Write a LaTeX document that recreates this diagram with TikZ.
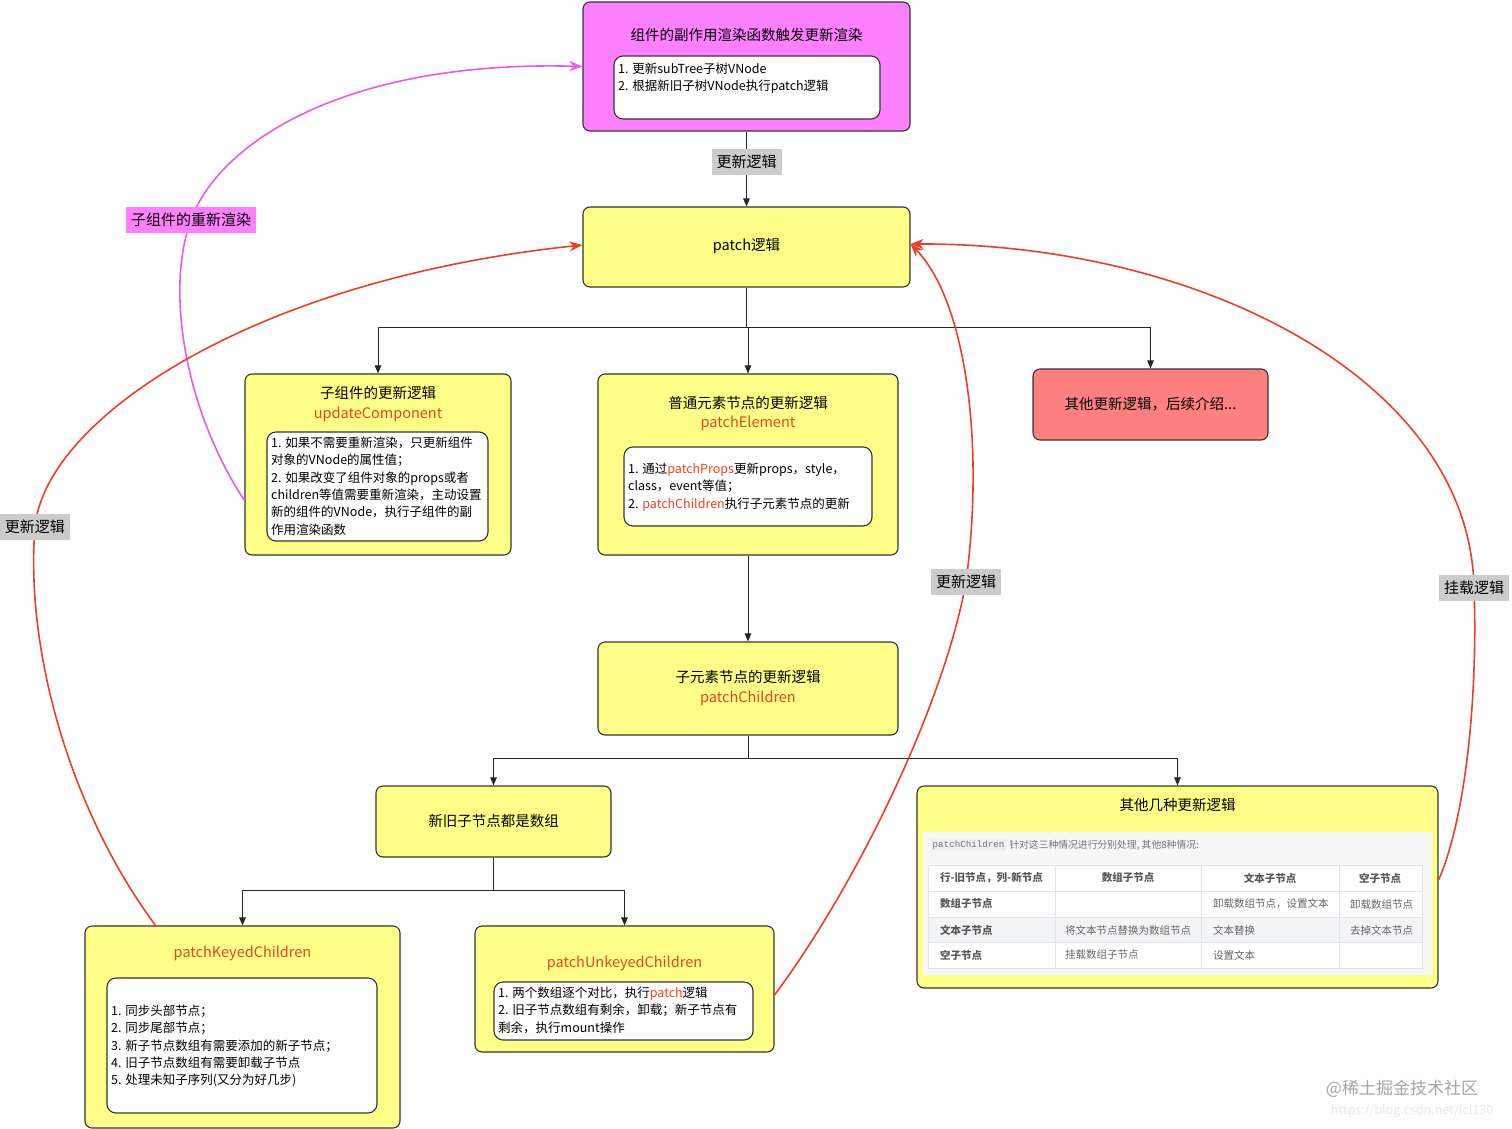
\documentclass[tikz,border=0pt]{standalone}
\usepackage{fontspec}
\setmainfont{Noto Sans CJK SC}
\setmonofont{Liberation Mono}
\usetikzlibrary{arrows.meta,calc}
\definecolor{pinkfill}{HTML}{FF80FF}
\definecolor{magline}{HTML}{E65CE6}
\definecolor{yfill}{HTML}{FFFF88}
\definecolor{redbox}{HTML}{FF8080}
\definecolor{redline}{HTML}{E8402A}
\definecolor{redtext}{HTML}{E8441F}
\definecolor{lblgray}{HTML}{CCCCCC}
\definecolor{tabline}{HTML}{E2E4E8}
\definecolor{tabtext}{HTML}{666666}
\definecolor{tabshade}{HTML}{F3F4F6}
\begin{document}
\begin{tikzpicture}[x=1pt,y=-1pt,
  bx/.style={draw=black!80, line width=1.1pt, rounded corners=7pt, inner sep=0pt},
  ybox/.style={bx, fill=yfill},
  wbox/.style={draw=black!80, line width=1.1pt, rounded corners=9pt, fill=white, inner sep=0pt},
  ttl/.style={font=\fontsize{14.5}{17}\selectfont, inner sep=0pt},
  rtl/.style={ttl, text=redtext},
  lst/.style={font=\fontsize{12.5}{17.4}\selectfont, align=left, inner sep=0pt, anchor=north west},
  lbl/.style={fill=lblgray, font=\fontsize{15}{18}\selectfont, inner xsep=5pt, inner ysep=6pt},
  arr/.style={draw=black!85, line width=1pt, -{Triangle[length=8pt,width=6.5pt]}},
  ln/.style={draw=black!85, line width=1pt},
  redarr/.style={draw=redline, line width=1.6pt, -{Stealth[length=13pt,width=10pt]}},
  magarr/.style={draw=magline, line width=1.6pt, -{Stealth[length=13pt,width=10pt]}},
  tcell/.style={font=\fontsize{10.5}{12}\selectfont, text=tabtext, inner sep=0pt},
  thead/.style={tcell, font=\fontsize{10.5}{12}\selectfont\bfseries, text=black!65},
]
\fill[white] (0,0) rectangle (1512,1129);
\useasboundingbox (0,0) rectangle (1512,1129);

% ---------- top box ----------
\node[bx, fill=pinkfill, minimum width=327pt, minimum height=129pt] (top) at (746.5,66.5) {};
\node[ttl] (toptitle) at (746.5,35) {组件的副作用渲染函数触发更新渲染};
\node[wbox, minimum width=266pt, minimum height=63pt] (topin) at (747,87.5) {};
\node[lst] (toptext) at (618,62.5) {1. 更新subTree子树VNode\\2. 根据新旧子树VNode执行patch逻辑};

% ---------- patch ----------
\node[ybox, minimum width=327pt, minimum height=80pt] (patch) at (746.5,247) {};
\node[ttl] (patchtitle) at (746.5,246) {patch逻辑};

% ---------- updateComponent ----------
\node[ybox, minimum width=266pt, minimum height=181pt] (uc) at (378,464.5) {};
\node[ttl] (uct) at (378,393) {子组件的更新逻辑};
\node[rtl] (ucr) at (378,414) {updateComponent};
\node[wbox, minimum width=221pt, minimum height=109pt] (ucin) at (377.5,486.5) {};
\node[lst] (uctext) at (271,436.5) {1. 如果不需要重新渲染，只更新组件\\对象的VNode的属性值；\\2. 如果改变了组件对象的props或者\\children等值需要重新渲染，主动设置\\新的组件的VNode，执行子组件的副\\作用渲染函数};

% ---------- patchElement ----------
\node[ybox, minimum width=300pt, minimum height=181pt] (pe) at (748,464.5) {};
\node[ttl] (pet) at (748,403) {普通元素节点的更新逻辑};
\node[rtl] (per) at (748,423) {patchElement};
\node[wbox, minimum width=248pt, minimum height=79pt] (pein) at (748,486.5) {};
\node[lst] (petext) at (628,462.5) {1. 通过{\color{redtext}patchProps}更新props，style，\\class，event等值；\\2. {\color{redtext}patchChildren}执行子元素节点的更新};

% ---------- other (red) ----------
\node[bx, fill=redbox, minimum width=235pt, minimum height=71pt] (rb) at (1150.5,404.5) {};
\node[ttl] (rbt) at (1150.5,404) {其他更新逻辑，后续介绍...};

% ---------- patchChildren ----------
\node[ybox, minimum width=300pt, minimum height=93pt] (pc) at (748,688.5) {};
\node[ttl] (pct) at (748,677) {子元素节点的更新逻辑};
\node[rtl] (pcr) at (748,698) {patchChildren};

% ---------- arrays ----------
\node[ybox, minimum width=235pt, minimum height=71pt] (ar) at (493.5,821.5) {};
\node[ttl] (art) at (493.5,821) {新旧子节点都是数组};

% ---------- other kinds ----------
\node[ybox, minimum width=521pt, minimum height=202pt] (oth) at (1177.5,887) {};
\node[ttl] (otht) at (1177.5,805) {其他几种更新逻辑};
\fill[white!97!black] (923,832) rectangle (1432,975);
\node[inner sep=1.5pt, fill=black!6, font=\fontsize{9.2}{11}\selectfont\ttfamily, text=black!55, anchor=west] (capm) at (931,845) {patchChildren};
\node[anchor=west, inner sep=0pt, font=\fontsize{9.8}{11}\selectfont, text=black!55] (capt) at ([xshift=3pt]capm.east) {针对这三种情况进行分别处理, 其他8种情况:};
\fill[white] (928,865) rectangle (1422,968);
\fill[tabshade] (928,917) rectangle (1422,942);
\draw[tabline, line width=0.8pt] (928,865) rectangle (1422,968);
\foreach \yy in {891,917,942} \draw[tabline, line width=0.8pt] (928,\yy) -- (1422,\yy);
\foreach \xx in {1055,1201,1339} \draw[tabline, line width=0.8pt] (\xx,865) -- (\xx,968);
\node[thead, anchor=west] (h1) at (940,878) {行-旧节点，列-新节点};
\node[thead] (h2) at (1128,878) {数组子节点};
\node[thead] (h3) at (1270,878) {文本子节点};
\node[thead] (h4) at (1380,878) {空子节点};
\node[thead, anchor=west] (r1) at (940,904) {数组子节点};
\node[tcell, anchor=west] (c13) at (1213,904) {卸载数组节点，设置文本};
\node[tcell, anchor=west] (c14) at (1350,904) {卸载数组节点};
\node[thead, anchor=west] (r2) at (940,930) {文本子节点};
\node[tcell, anchor=west] (c22) at (1065,930) {将文本节点替换为数组节点};
\node[tcell, anchor=west] (c23) at (1213,930) {文本替换};
\node[tcell, anchor=west] (c24) at (1350,930) {去掉文本节点};
\node[thead, anchor=west] (r3) at (940,955) {空子节点};
\node[tcell, anchor=west] (c32) at (1065,955) {挂载数组子节点};
\node[tcell, anchor=west] (c33) at (1213,955) {设置文本};

% ---------- patchKeyedChildren ----------
\node[ybox, minimum width=315pt, minimum height=202pt] (pk) at (242.5,1027) {};
\node[rtl] (pkr) at (242.5,953) {patchKeyedChildren};
\node[wbox, minimum width=270pt, minimum height=135pt] (pkin) at (242,1045.5) {};
\node[lst] (pktext) at (111,1004.5) {1. 同步头部节点；\\2. 同步尾部节点；\\3. 新子节点数组有需要添加的新子节点；\\4. 旧子节点数组有需要卸载子节点\\5. 处理未知子序列(又分为好几步)};

% ---------- patchUnkeyedChildren ----------
\node[ybox, minimum width=299pt, minimum height=126pt] (pu) at (624.5,989) {};
\node[rtl] (pur) at (624.5,963) {patchUnkeyedChildren};
\node[wbox, minimum width=259pt, minimum height=58pt] (puin) at (623.5,1011) {};
\node[lst] (putext) at (498,986.5) {1. 两个数组逐个对比，执行{\color{redtext}patch}逻辑\\2. 旧子节点数组有剩余，卸载；新子节点有\\剩余，执行mount操作};

% ---------- tree connectors ----------
\draw[arr] (top) -- (patch) node[pos=0.41, lbl] (l0) {更新逻辑};
\coordinate (j1) at (746.5,327);
\draw[ln] (patch.south) -- (j1);
\draw[arr] (j1) -| (uc.north);
\draw[arr] (j1) -| (rb.north);
\draw[arr] (j1) -| (pe.north);
\draw[arr] (pe) -- (pc);
\coordinate (j2) at (748,758);
\draw[ln] (pc.south) -- (j2);
\draw[arr] (j2) -| (ar.north);
\draw[arr] (j2) -| (oth.north);
\coordinate (j3) at (493.5,890);
\draw[ln] (ar.south) -- (j3);
\draw[arr] (j3) -| (pk.north);
\draw[arr] (j3) -| (pu.north);

% ---------- curved connectors ----------
\draw[magarr] ([yshift=-36pt]uc.west) .. controls (185,410) and (165,290) .. (191,220)
  node[lbl, fill=pinkfill] (l1) {子组件的重新渲染}
  .. controls (220,140) and (350,60) .. (top.west);
\draw[redarr] ([xshift=-87pt]pk.north) .. controls (70,810) and (25,650) .. (35,527)
  node[lbl] (l2) {更新逻辑}
  .. controls (45,420) and (250,280) .. ([yshift=2pt]patch.west);
\draw[redarr] ([yshift=-6pt]pu.east) .. controls (860,880) and (945,700) .. (966,582)
  node[lbl] (l3) {更新逻辑}
  .. controls (985,440) and (965,300) .. ([yshift=3pt]patch.east);
\draw[redarr] ([yshift=7pt]oth.east) .. controls (1465,820) and (1478,700) .. (1474,588)
  node[lbl] (l4) {挂载逻辑}
  .. controls (1470,380) and (1200,243) .. ([yshift=3pt]patch.east);

% ---------- watermark ----------
\node[font=\fontsize{17}{20}\selectfont, text=black!35, inner sep=0pt] (wm1) at (1402,1089) {@稀土掘金技术社区};
\node[font=\fontsize{12.5}{14}\selectfont, text=black!9, inner sep=0pt] (wm2) at (1412,1111) {https://blog.csdn.net/lcl130};
\end{tikzpicture}
\end{document}
